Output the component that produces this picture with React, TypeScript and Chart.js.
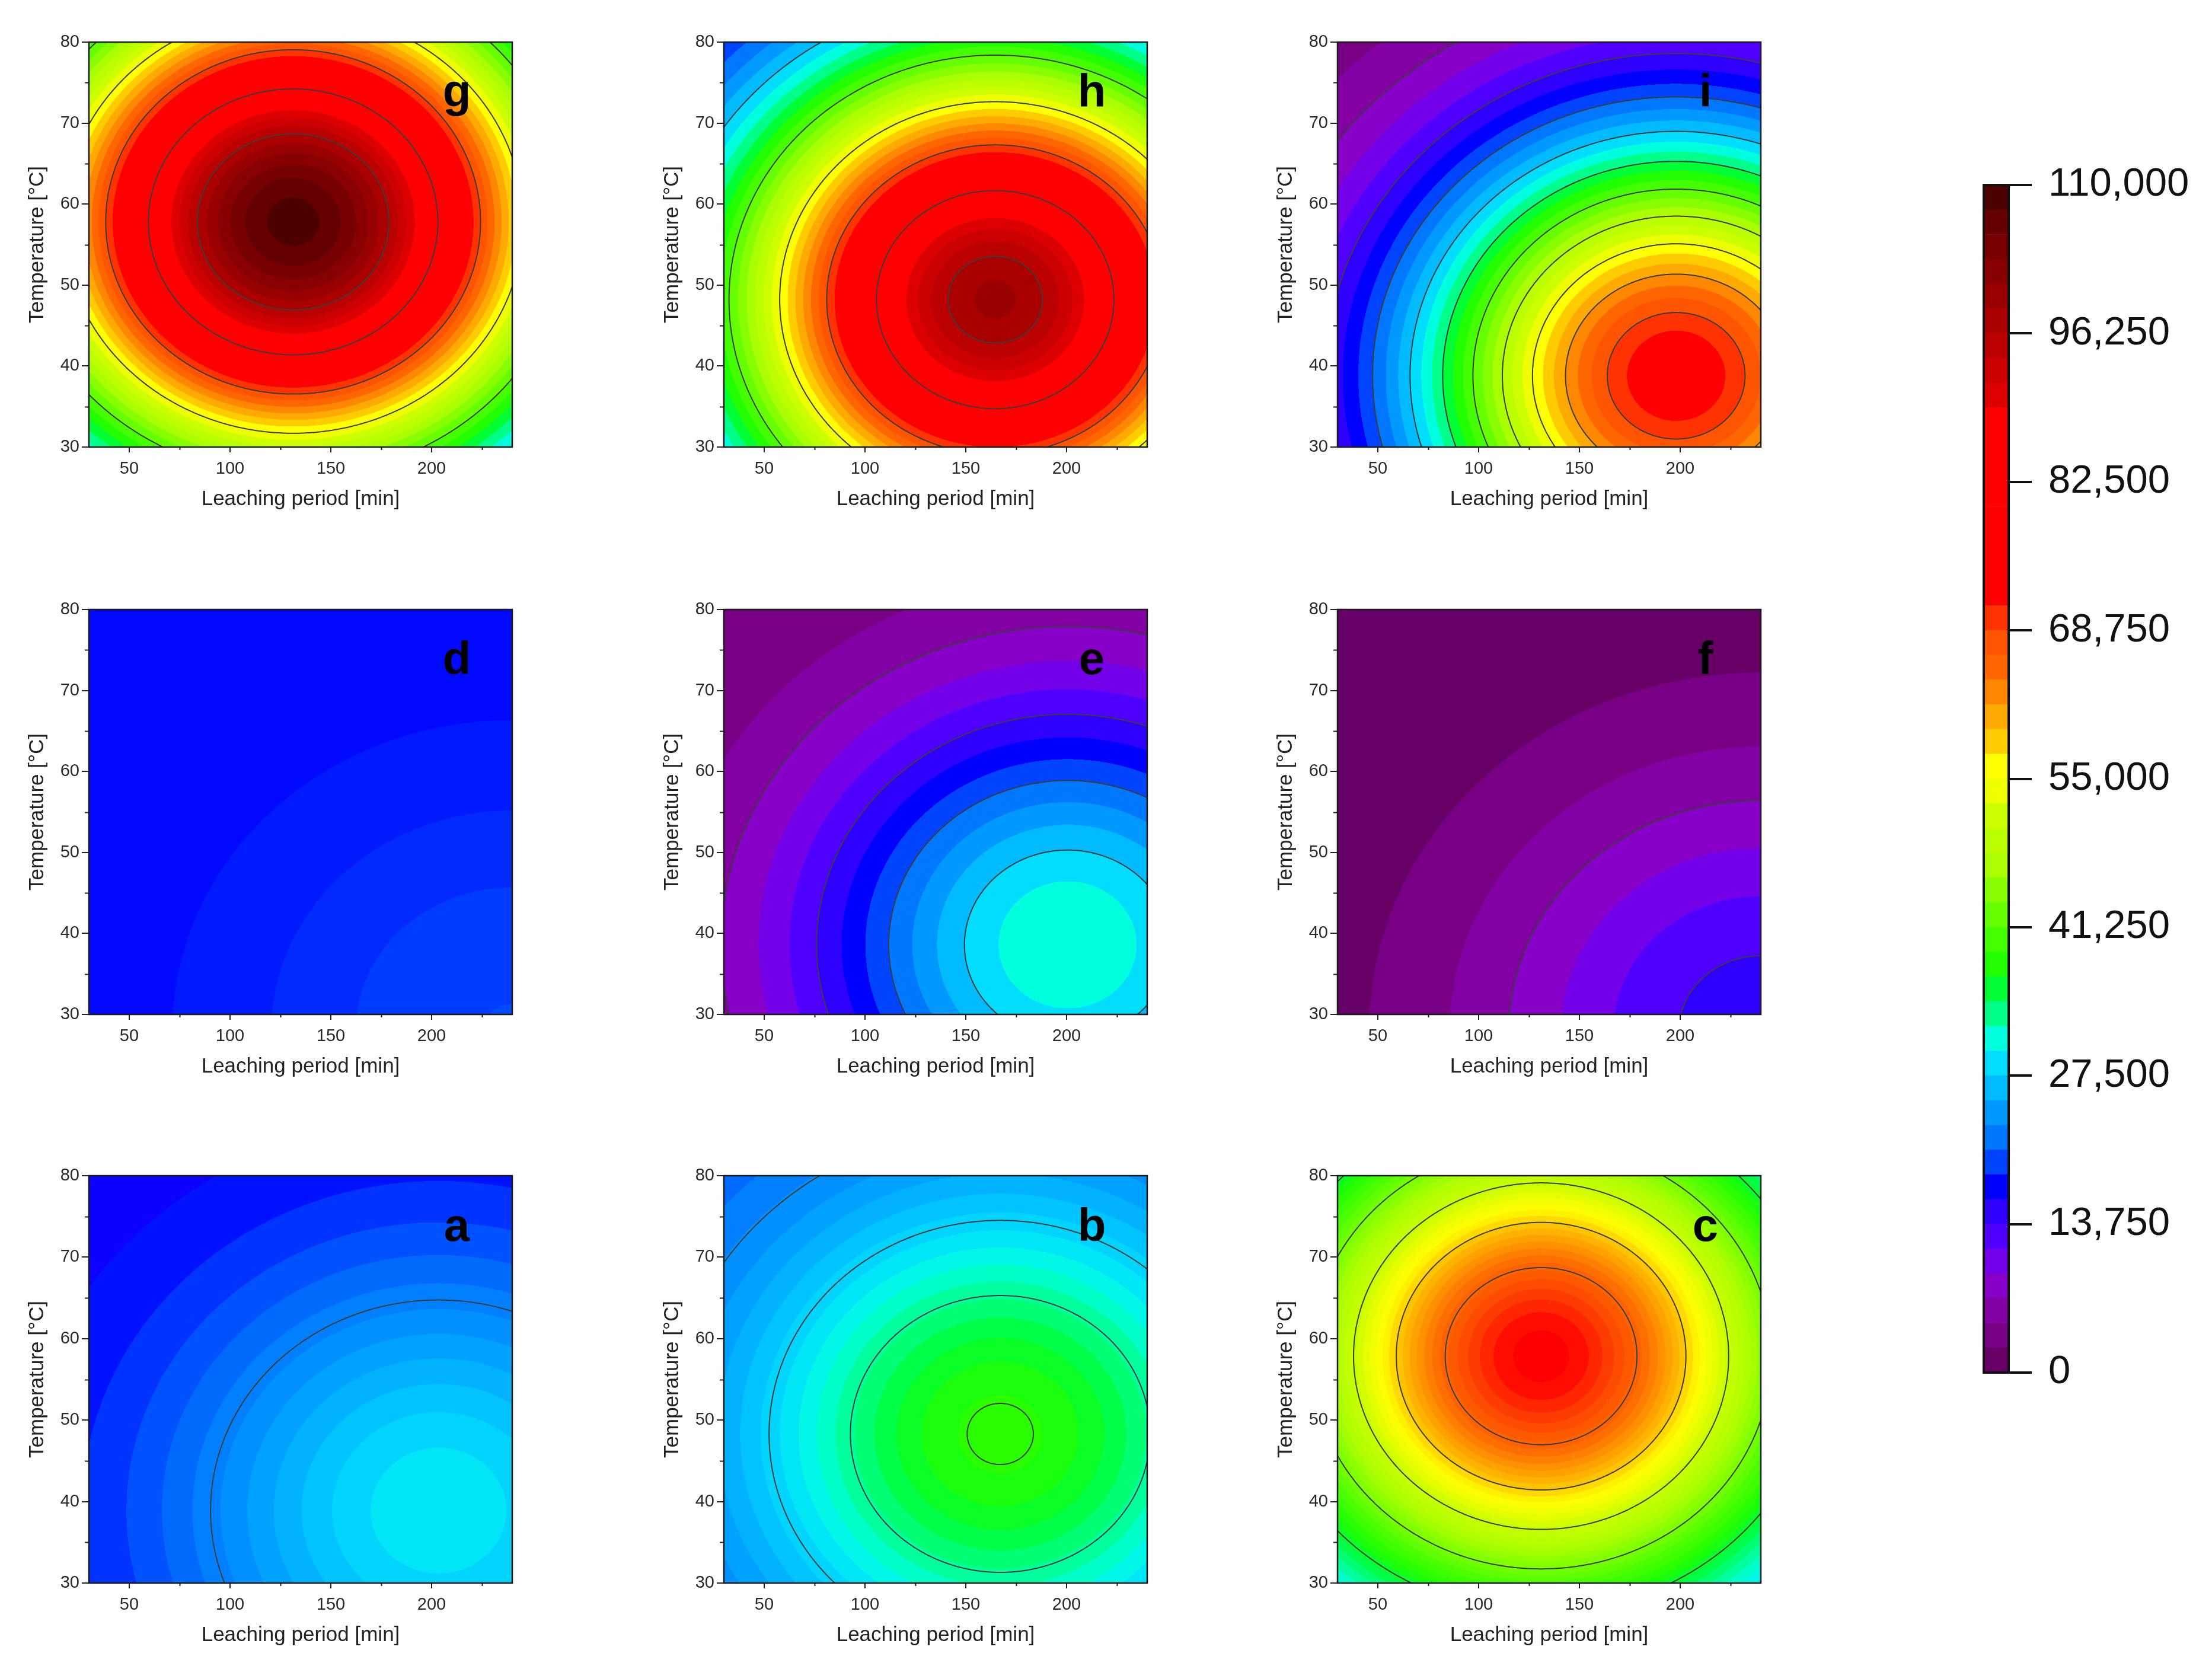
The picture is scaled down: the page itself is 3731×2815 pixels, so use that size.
import React, { useEffect, useRef } from 'react';
import { Chart, registerables } from 'chart.js';

Chart.register(...registerables);

const FONT = 'Arial, "Liberation Sans", Helvetica, sans-serif';

// ---------------- data ----------------
// panels in layout order: g h i / d e f / a b c
const panelLabels = ['g', 'h', 'i', 'd', 'e', 'f', 'a', 'b', 'c'];
const peakPeriod = [131.3, 164.6, 198.0, 240.0, 200.5, 240.0, 203.4, 167.1, 131.0];
const peakTemperature = [57.8, 48.2, 38.8, 28.0, 38.6, 28.0, 38.9, 48.3, 57.85];
const responseAmplitude = [100700, 90500, 72000, 2306, 30300, 14920, 13300, 19200, 54900];
const responseBaseline = [8000, 8600, 1500, 17197, 1500, 0, 16200, 19100, 17900];
const periodSpread = [130.8, 130.8, 130.8, 142, 130.8, 142, 130.8, 130.8, 130.8];
const temperatureSpread = [29.9, 29.9, 29.9, 32.3, 29.9, 32.3, 29.9, 29.9, 29.9];
const fillSubdivision = [1, 1, 1, 4, 1, 1, 2, 2, 2];
const contourLevels = [
  [96250, 82500, 68750, 55000, 41250],
  [96250, 82500, 68750, 55000, 41250, 27500],
  [68750, 61875, 55000, 48125, 41250, 34375, 27500, 20625, 13750, 6875],
  [],
  [27500, 20625, 13750, 6875],
  [13750, 6875],
  [22500],
  [38000, 33000, 28000, 23000],
  [66000, 58500, 51000, 43500, 36000],
];
const periodTicks = [50, 100, 150, 200];
const periodMinorTicks = [75, 125, 175, 225];
const temperatureTicks = [30, 40, 50, 60, 70, 80];
const temperatureMinorTicks = [35, 45, 55, 65, 75];
const colorbarTicks = [0, 13750, 27500, 41250, 55000, 68750, 82500, 96250, 110000];
const colorbarMax = 110000;
const colorbarBands = 48;

const PALETTE = [
  '#660066', '#780084', '#8200a4', '#8600c8', '#7400ea', '#5000ff',
  '#3000ff', '#0000ff', '#0044ff', '#0077ff', '#0099ff', '#00bbff',
  '#00ddff', '#00ffdd', '#00ff88', '#00ff33', '#22ff00', '#44ff00',
  '#66ff00', '#88ff00', '#aaff00', '#bbff00', '#ccff00', '#eeff00',
  '#ffff00', '#ffcc00', '#ffaa00', '#ff8800', '#ff6600', '#ff5500',
  '#ff3300', '#ff0000', '#ff0000', '#ff0000', '#ff0000', '#ff0000',
  '#ff0000', '#ff0000', '#ff0000', '#dd0000', '#cc0000', '#bb0000',
  '#aa0000', '#990000', '#880000', '#770000', '#660000', '#4d0000',
];

// ---------------- layout ----------------
const COL_LEFT = [150, 1221, 2256];
const ROW_TOP = [71, 1028, 1983];
const ROW_H = [683, 683, 687];
const PLOT_W = 714;
const AXIS_W = 150;
const AXIS_H = 120;
const PAD_TOP = 30;
const PAD_RIGHT = 20;

const BAND = colorbarMax / colorbarBands;

function hexToRgb(h: string): number[] {
  return [parseInt(h.slice(1, 3), 16), parseInt(h.slice(3, 5), 16), parseInt(h.slice(5, 7), 16)];
}
const PALETTE_RGB = PALETTE.map(hexToRgb);

function paletteAt(v: number): number[] {
  const t = v / BAND - 0.5;
  if (t <= 0) return PALETTE_RGB[0];
  if (t >= colorbarBands - 1) return PALETTE_RGB[colorbarBands - 1];
  const i = Math.floor(t);
  const f = t - i;
  const a = PALETTE_RGB[i];
  const b = PALETTE_RGB[i + 1];
  return [a[0] + (b[0] - a[0]) * f, a[1] + (b[1] - a[1]) * f, a[2] + (b[2] - a[2]) * f];
}

function response(i: number, x: number, t: number): number {
  const du = (x - peakPeriod[i]) / periodSpread[i];
  const dv = (t - peakTemperature[i]) / temperatureSpread[i];
  return responseBaseline[i] + responseAmplitude[i] * Math.exp(-(du * du + dv * dv));
}

function makeContourPlugin(idx: number) {
  return {
    id: 'contour' + idx,
    beforeDatasetsDraw(chart: any) {
      const { ctx, chartArea: ca, scales } = chart;
      const xs = scales.x;
      const ys = scales.y;
      const left = Math.round(ca.left);
      const top = Math.round(ca.top);
      const w = Math.round(ca.right) - left;
      const h = Math.round(ca.bottom) - top;
      const step = BAND / fillSubdivision[idx];
      const img = ctx.createImageData(w, h);
      const xv = new Float64Array(w);
      const yv = new Float64Array(h);
      for (let i = 0; i < w; i++) xv[i] = xs.getValueForPixel(left + i + 0.5);
      for (let j = 0; j < h; j++) yv[j] = ys.getValueForPixel(top + j + 0.5);
      const cache: Record<number, number[]> = {};
      let p = 0;
      for (let j = 0; j < h; j++) {
        for (let i = 0; i < w; i++) {
          let z = response(idx, xv[i], yv[j]);
          if (z < 0) z = 0;
          if (z >= colorbarMax) z = colorbarMax - 1;
          const b = Math.floor(z / step);
          let c = cache[b];
          if (!c) {
            c = paletteAt((b + 0.5) * step);
            cache[b] = c;
          }
          img.data[p++] = c[0];
          img.data[p++] = c[1];
          img.data[p++] = c[2];
          img.data[p++] = 255;
        }
      }
      ctx.putImageData(img, left, top);

      // contour lines
      ctx.save();
      ctx.beginPath();
      ctx.rect(ca.left, ca.top, ca.right - ca.left, ca.bottom - ca.top);
      ctx.clip();
      ctx.strokeStyle = '#3c3c3c';
      ctx.lineWidth = 2;
      for (const L of contourLevels[idx]) {
        const frac = (L - responseBaseline[idx]) / responseAmplitude[idx];
        if (!(frac > 0 && frac < 1)) continue;
        const r = Math.sqrt(-Math.log(frac));
        ctx.beginPath();
        const N = 720;
        for (let k = 0; k <= N; k++) {
          const th = (k / N) * Math.PI * 2;
          const px = xs.getPixelForValue(peakPeriod[idx] + periodSpread[idx] * r * Math.cos(th));
          const py = ys.getPixelForValue(peakTemperature[idx] + temperatureSpread[idx] * r * Math.sin(th));
          if (k === 0) ctx.moveTo(px, py);
          else ctx.lineTo(px, py);
        }
        ctx.stroke();
      }
      ctx.restore();
    },
    afterDraw(chart: any) {
      const { ctx, chartArea: ca, scales } = chart;
      const xs = scales.x;
      const ys = scales.y;
      ctx.save();
      ctx.strokeStyle = '#222';
      ctx.lineWidth = 2;
      // minor ticks
      ctx.beginPath();
      for (const v of periodMinorTicks) {
        const px = Math.round(xs.getPixelForValue(v)) + 0.5;
        ctx.moveTo(px, ca.bottom);
        ctx.lineTo(px, ca.bottom + 5);
      }
      for (const v of temperatureMinorTicks) {
        const py = Math.round(ys.getPixelForValue(v)) + 0.5;
        ctx.moveTo(ca.left, py);
        ctx.lineTo(ca.left - 7, py);
      }
      ctx.stroke();
      // frame
      ctx.strokeStyle = '#1a1a1a';
      ctx.lineWidth = 2.5;
      ctx.strokeRect(ca.left, ca.top, ca.right - ca.left, ca.bottom - ca.top);
      // panel letter
      ctx.fillStyle = '#000';
      ctx.font = 'bold 78px ' + FONT;
      ctx.textAlign = 'center';
      ctx.textBaseline = 'alphabetic';
      ctx.fillText(panelLabels[idx], xs.getPixelForValue(212.5), ys.getPixelForValue(72));
      ctx.restore();
    },
  };
}

function ContourPanel({ index }: { index: number }) {
  const ref = useRef<HTMLCanvasElement | null>(null);
  const col = index % 3;
  const row = Math.floor(index / 3);
  const cw = AXIS_W + PLOT_W + PAD_RIGHT;
  const ch = PAD_TOP + ROW_H[row] + AXIS_H;
  useEffect(() => {
    if (!ref.current) return;
    const chart = new Chart(ref.current, {
      type: 'scatter',
      data: { datasets: [{ data: [], pointRadius: 0 }] },
      options: {
        responsive: false,
        animation: false,
        devicePixelRatio: 1,
        layout: { padding: { top: PAD_TOP, right: PAD_RIGHT, left: 0, bottom: 0 } },
        plugins: { legend: { display: false }, tooltip: { enabled: false } },
        scales: {
          x: {
            type: 'linear',
            min: 30,
            max: 240,
            afterBuildTicks: (s: any) => {
              s.ticks = periodTicks.map((v) => ({ value: v }));
            },
            afterFit: (s: any) => {
              s.height = AXIS_H;
              s.paddingLeft = 0;
              s.paddingRight = 0;
            },
            ticks: { font: { family: FONT, size: 29 }, color: '#2a2a2a', padding: 11, maxRotation: 0, autoSkip: false },
            grid: { display: true, drawOnChartArea: false, drawTicks: true, tickLength: 9, color: '#222', lineWidth: 2 },
            border: { display: false },
            title: {
              display: true,
              text: 'Leaching period [min]',
              font: { family: FONT, size: 35 },
              color: '#222',
              padding: { top: 0, bottom: 11 },
            },
          },
          y: {
            type: 'linear',
            min: 30,
            max: 80,
            afterBuildTicks: (s: any) => {
              s.ticks = temperatureTicks.map((v) => ({ value: v }));
            },
            afterFit: (s: any) => {
              s.width = AXIS_W;
              s.paddingTop = 0;
              s.paddingBottom = 0;
            },
            ticks: { font: { family: FONT, size: 29 }, color: '#2a2a2a', padding: 4, autoSkip: false },
            grid: { display: true, drawOnChartArea: false, drawTicks: true, tickLength: 12, color: '#222', lineWidth: 2 },
            border: { display: false },
            title: {
              display: true,
              text: 'Temperature [°C]',
              font: { family: FONT, size: 35 },
              color: '#222',
              padding: { top: 42, bottom: 0 },
            },
          },
        },
      } as any,
      plugins: [makeContourPlugin(index)],
    });
    return () => chart.destroy();
  }, [index]);
  return (
    <canvas
      ref={ref}
      width={cw}
      height={ch}
      style={{ position: 'absolute', left: COL_LEFT[col] - AXIS_W, top: ROW_TOP[row] - PAD_TOP, width: cw, height: ch }}
    />
  );
}

const CB_LEFT = 3336;
const CB_TOP = 280;
const CB_W = 395;
const CB_PAD_LEFT = 10;
const CB_PAD_TOP = 32;
const CB_BAR_W = 42;
const CB_BAR_H = 2003;
const CB_PAD_BOTTOM = 45;

const colorbarFrame = {
  id: 'colorbarFrame',
  afterDraw(chart: any) {
    const { ctx, chartArea: ca } = chart;
    ctx.save();
    ctx.strokeStyle = '#111';
    ctx.lineWidth = 4;
    ctx.strokeRect(ca.left, ca.top, ca.right - ca.left, ca.bottom - ca.top);
    ctx.restore();
  },
};

function Colorbar() {
  const ref = useRef<HTMLCanvasElement | null>(null);
  const ch = CB_PAD_TOP + CB_BAR_H + CB_PAD_BOTTOM;
  useEffect(() => {
    if (!ref.current) return;
    const chart = new Chart(ref.current, {
      type: 'bar',
      data: {
        labels: [''],
        datasets: PALETTE.map((c) => ({
          data: [colorbarMax / colorbarBands],
          backgroundColor: c,
          borderWidth: 0,
          barPercentage: 1,
          categoryPercentage: 1,
          stack: 'scale',
        })),
      },
      options: {
        responsive: false,
        animation: false,
        devicePixelRatio: 1,
        layout: { padding: { top: CB_PAD_TOP, left: CB_PAD_LEFT, right: 0, bottom: CB_PAD_BOTTOM } },
        plugins: { legend: { display: false }, tooltip: { enabled: false } },
        scales: {
          x: { stacked: true, display: false },
          y: {
            stacked: true,
            position: 'right',
            min: 0,
            max: colorbarMax,
            afterBuildTicks: (s: any) => {
              s.ticks = colorbarTicks.map((v) => ({ value: v }));
            },
            afterFit: (s: any) => {
              s.width = CB_W - CB_PAD_LEFT - CB_BAR_W;
              s.paddingTop = 0;
              s.paddingBottom = 0;
            },
            ticks: {
              font: { family: FONT, size: 67 },
              color: '#111',
              padding: 28,
              autoSkip: false,
              callback: (v: any) => Number(v).toLocaleString('en-US'),
            },
            grid: { display: true, drawOnChartArea: false, drawTicks: true, tickLength: 39, color: '#111', lineWidth: 4 },
            border: { display: false },
          },
        },
      } as any,
      plugins: [colorbarFrame],
    });
    return () => chart.destroy();
  }, []);
  return (
    <canvas
      ref={ref}
      width={CB_W}
      height={ch}
      style={{ position: 'absolute', left: CB_LEFT, top: CB_TOP, width: CB_W, height: ch }}
    />
  );
}

export default function App() {
  return (
    <div
      style={{
        position: 'absolute',
        left: 0,
        top: 0,
        width: 3731,
        height: 2815,
        background: '#ffffff',
        overflow: 'hidden',
      }}
    >
      {panelLabels.map((_, i) => (
        <ContourPanel key={i} index={i} />
      ))}
      <Colorbar />
    </div>
  );
}
